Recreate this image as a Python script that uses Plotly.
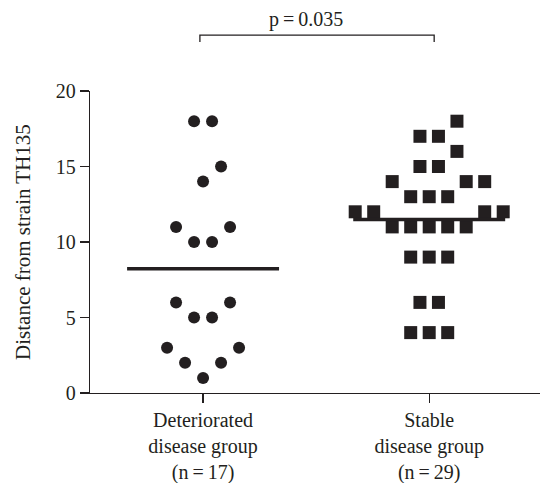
import plotly.graph_objects as go
import numpy as np

# ---------------- data ----------------
categories = ["Deteriorated<br>disease group<br>(n\u2009=\u200917)",
              "Stable<br>disease group<br>(n\u2009=\u200929)"]
deteriorated = [18, 18, 15, 14, 11, 11, 10, 10, 6, 6, 5, 5, 3, 3, 2, 2, 1]
stable = [18, 17, 17, 16, 15, 15, 14, 14, 14, 13, 13, 13,
          12, 12, 12, 12, 11, 11, 11, 11, 11, 9, 9, 9, 6, 6, 4, 4, 4]
y_ticks = [0, 5, 10, 15, 20]
p_label = "p\u2009=\u20090.035"
y_title = "Distance from strain TH135"

# ---------------- layout constants ----------------
W, H = 541, 483
ML, MR, MT, MB = 90, 1, 91, 90
X_RANGE = [-0.5, 1.49]
Y_RANGE = [0, 20]
INK = "#231f20"
FONT = "Liberation Serif, Times New Roman, serif"

px_per_x = (W - ML - MR) / (X_RANGE[1] - X_RANGE[0])
px_per_y = (H - MT - MB) / (Y_RANGE[1] - Y_RANGE[0])


def swarm_offsets(values, step_px):
    """Simple deterministic beeswarm on a half-step grid (ascending rows)."""
    placed = []  # (x_px, y_px)
    out = {}
    for v in sorted(set(values)):
        k = values.count(v)
        ypx = v * px_per_y
        cands = [0.0] if k % 2 else []
        for h in range(1, 40):
            cands += [h * 0.5, -h * 0.5]
        chosen = []
        for c in cands:
            xpx = c * step_px
            ok = all(np.hypot(px - xpx, py - ypx) >= step_px - 1e-6
                     for (px, py) in placed)
            if ok:
                ok = all(abs(cx - xpx) >= step_px - 1e-6 for cx in chosen)
            if ok:
                chosen.append(xpx)
                if len(chosen) == k:
                    break
        for cx in chosen:
            placed.append((cx, ypx))
        out[v] = sorted(chosen)
    xs, ys = [], []
    for v in sorted(set(values)):
        for cx in out[v]:
            xs.append(cx / px_per_x)
            ys.append(v)
    return np.array(xs), np.array(ys)


fig = go.Figure()

groups = [(deteriorated, "circle", 12, 18.0), (stable, "square", 13, 18.5)]
for i, (vals, sym, size, step) in enumerate(groups):
    dx, yv = swarm_offsets(vals, step)
    fig.add_trace(go.Scatter(
        x=i + dx, y=yv, mode="markers",
        marker=dict(symbol=sym, size=size, color=INK, line=dict(width=0)),
        showlegend=False, hoverinfo="skip"))
    m = float(np.mean(vals))
    fig.add_shape(type="line", xref="x", yref="y",
                  x0=i - 0.336, x1=i + 0.336, y0=m, y1=m,
                  line=dict(color=INK, width=3.5))

# significance bracket
fig.add_shape(type="path", xref="x", yref="paper",
              path="M -0.014,1.162 L -0.014,1.185 L 1.022,1.185 L 1.022,1.162",
              line=dict(color=INK, width=1.3))
fig.add_annotation(x=0.456, y=1.236, xref="x", yref="paper", text=p_label,
                   showarrow=False, xanchor="center", yanchor="middle",
                   font=dict(family=FONT, size=20, color=INK))

# y-axis title
fig.add_annotation(x=-0.149, y=0.5, xref="paper", yref="paper", text=y_title,
                   showarrow=False, textangle=-90, xanchor="center",
                   yanchor="middle",
                   font=dict(family=FONT, size=21, color=INK))

fig.update_layout(
    width=W, height=H,
    margin=dict(l=ML, r=MR, t=MT, b=MB, autoexpand=False),
    paper_bgcolor="white", plot_bgcolor="white",
    font=dict(family=FONT, color=INK),
    hovermode=False,
    xaxis=dict(range=X_RANGE, tickmode="array", tickvals=[0, 1],
               ticktext=categories, ticks="outside", ticklen=9,
               tickwidth=1.3, tickcolor=INK, showline=True, linecolor=INK,
               linewidth=1.3, showgrid=False, zeroline=False,
               automargin=False,
               tickfont=dict(family=FONT, size=20, color=INK)),
    yaxis=dict(range=Y_RANGE, tickmode="array", tickvals=y_ticks,
               ticks="outside", ticklen=9, tickwidth=1.3, tickcolor=INK,
               showline=True, linecolor=INK, linewidth=1.3,
               showgrid=False, zeroline=False, automargin=False,
               tickfont=dict(family=FONT, size=20, color=INK)),
)

fig.write_html("out.html",
               config={"displayModeBar": False, "staticPlot": True},
               post_script="document.body.style.margin='0';"
                           "document.body.style.padding='0';"
                           "document.body.style.overflow='hidden';")
